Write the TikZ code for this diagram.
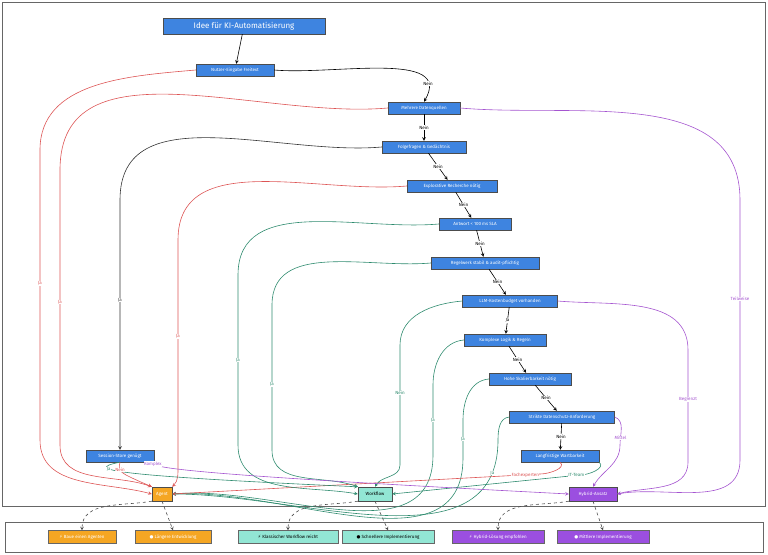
\documentclass[tikz,border=0pt]{standalone}
\usepackage{fontspec}
\setmainfont{Fira Sans}
\newfontfamily\symfont{DejaVu Sans}
\usetikzlibrary{positioning}
\definecolor{boxblue}{HTML}{3E84E0}
\definecolor{boxorange}{HTML}{F5A623}
\definecolor{boxteal}{HTML}{92E6D4}
\definecolor{boxpurple}{HTML}{9B4FE0}
\definecolor{edgered}{HTML}{DD5555}
\definecolor{edgeteal}{HTML}{2E8B6E}
\definecolor{edgepurple}{HTML}{A555D0}
\tikzset{
  box/.style={draw=black!70, fill=boxblue, text=white, font=\fontsize{4.5}{5}\selectfont, inner sep=1pt, minimum height=12pt, minimum width=#1},
  box/.default=80pt,
  legend/.style={draw=black!60, minimum height=13pt, minimum width=#1, font=\fontsize{4.5}{5}\selectfont},
  lbl/.style={font=\fontsize{4.5}{5}\selectfont, fill=white, inner sep=0.5pt},
  arr/.style={-stealth, line width=0.6pt},
  legarr/.style={-stealth, dashed, black!70, line width=0.6pt}
}
\begin{document}
\begin{tikzpicture}[x=1pt, y=-1pt]
  \useasboundingbox (0,0) rectangle (768,554);
  \draw[black!60, thick] (2,2) rectangle (765,506);
  \draw[black!60, thick] (5,522) rectangle (763,552);
  % decision nodes
  \node[box=162pt, minimum height=16pt, font=\fontsize{8}{9}\selectfont] (idee) at (244,26) {Idee für KI-Automatisierung};
  \node[box=78pt] (n1) at (235,70) {Nutzer-Eingabe Freitext};
  \node[box=72pt] (n2) at (424,108) {Mehrere Datenquellen};
  \node[box=84pt] (n3) at (424,147) {Folgefragen \& Gedächtnis};
  \node[box=90pt] (n4) at (452,186) {Explorative Recherche nötig};
  \node[box=72pt] (n5) at (475,224) {Antwort < 100 ms SLA};
  \node[box=108pt] (n6) at (485,263) {Regelwerk stabil \& audit-pflichtig};
  \node[box=95pt] (n7) at (510,301) {LLM-Kostenbudget vorhanden};
  \node[box=82pt] (n8) at (505,340) {Komplexe Logik \& Regeln};
  \node[box=82pt] (n9) at (530,379) {Hohe Skalierbarkeit nötig};
  \node[box=105pt] (n10) at (562,417) {Strikte Datenschutz-Anforderung};
  \node[box=78pt] (n11) at (560,456) {Langfristige Wartbarkeit};
  \node[box=68pt] (ss) at (120,456) {Session-Store genügt};
  % results
  \node[box=20pt, minimum height=14pt, fill=boxorange] (agent) at (162,494) {Agent};
  \node[box=34pt, minimum height=14pt, fill=boxteal, text=black] (workflow) at (375,494) {Workflow};
  \node[box=48pt, minimum height=14pt, fill=boxpurple] (hybrid) at (593,494) {Hybrid-Ansatz};
  % legend
  \node[legend=68pt, fill=boxorange, text=white] (l1) at (82,537) {{\symfont ⚡} Baue einen Agenten};
  \node[legend=76pt, fill=boxorange, text=white] (l2) at (173,537) {{\symfont ●} Längere Entwicklung};
  \node[legend=100pt, fill=boxteal] (l3) at (288,537) {{\symfont ⚡} Klassischer Workflow reicht};
  \node[legend=92pt, fill=boxteal] (l4) at (388,537) {{\symfont ●} Schnellere Implementierung};
  \node[legend=92pt, fill=boxpurple, text=white] (l5) at (498,537) {{\symfont ⚡} Hybrid-Lösung empfohlen};
  \node[legend=92pt, fill=boxpurple, text=white] (l6) at (603,537) {{\symfont ●} Mittlere Implementierung};
  % main chain
  \draw[arr] (idee) -- (n1);
  \draw[arr] (n1.east) to[out=-5,in=60] node[lbl, pos=.85]{Nein} (n2.north);
  \foreach \a/\b/\t in {n2/n3/Nein, n3/n4/Nein, n4/n5/Nein, n5/n6/Nein, n6/n7/Nein, n7/n8/Ja, n8/n9/Nein, n9/n10/Nein, n10/n11/Nein}
    \draw[arr] (\a) -- node[lbl]{\t} (\b);
  % to agent
  \draw[arr, edgered] (n1.west) to[out=185,in=90] (40,150) -- node[lbl, pos=.46]{Ja} (40,440) to[out=-90,in=165] (agent.west);
  \draw[arr, edgered] (n2.west) to[out=185,in=90] (60,170) -- node[lbl, pos=.48]{Ja} (60,445) to[out=-90,in=160] (agent.north west);
  \draw[arr, black!80] (n3.west) to[out=185,in=90] (120,200) -- node[lbl, pos=.4]{Ja} (ss.north);
  \draw[arr, edgered] (n4.west) to[out=185,in=90] (178,240) -- node[lbl, pos=.43]{Ja} (178,465) to[out=-90,in=45] (agent.north east);
  \draw[arr, edgeteal] (n8.west) to[out=185,in=90] (433,385) -- node[lbl, pos=.5]{Ja} (433,455) to[out=-90,in=5] (agent.east);
  \draw[arr, edgeteal] (n9.west) to[out=185,in=90] (463,420) -- node[lbl, pos=.5]{Ja} (463,458) to[out=-90,in=3] (agent.east);
  \draw[arr, edgeteal] (n10.west) to[out=185,in=90] (498,440) to[out=-90,in=0] node[lbl, pos=.1]{Ja} (agent.east);
  \draw[arr, edgered] (n11.south) to[out=-40,in=0] (540,474) -- node[lbl, pos=.04]{Fachexperten} (agent.east);
  % to workflow
  \draw[arr, edgeteal] (n5.west) to[out=185,in=90] (238,275) -- node[lbl, pos=.5]{Ja} (238,445) to[out=-90,in=170] (workflow.west);
  \draw[arr, edgeteal] (n6.west) to[out=185,in=90] (272,305) -- node[lbl, pos=.55]{Ja} (272,450) to[out=-90,in=160] (workflow.north west);
  \draw[arr, edgeteal] (n7.west) to[out=185,in=90] (400,345) -- node[lbl, pos=.4]{Nein} (400,465) to[out=-90,in=60] (workflow.north);
  \draw[arr, edgeteal] (n11.south east) to[out=-40,in=0] (580,475) -- node[lbl, pos=.02]{IT-Team} (workflow.east);
  % to hybrid
  \draw[arr, edgepurple] (n2.east) to[out=-5,in=90] (740,200) -- node[lbl, pos=.38]{Teilweise} (740,460) to[out=-90,in=10] (hybrid.east);
  \draw[arr, edgepurple] (n7.east) to[out=-5,in=90] (688,350) -- node[lbl, pos=.44]{Begrenzt} (688,462) to[out=-90,in=15] (hybrid.east);
  \draw[arr, edgepurple] (n10.east) to[out=-20,in=90] node[lbl, pos=.8]{Mittel} (620,445) to[out=-90,in=60] (hybrid.north);
  % from session store
  \draw[arr, edgeteal] (ss.south) .. controls (80,470) and (120,476) .. node[lbl, pos=.3]{Ja} (workflow.north west);
  \draw[arr, edgered] (ss.south) .. controls (118,472) .. node[lbl, pos=.35]{Nein} (agent.north west);
  \draw[arr, edgepurple] (ss.south east) .. controls (135,470) and (300,480) .. node[lbl, pos=.07]{Komplex} (hybrid.west);
  % to legend
  \draw[legarr] (agent.south west) to[out=190,in=90] (l1.north);
  \draw[legarr] (agent.south) -- (l2.north);
  \draw[legarr] (workflow.south west) to[out=190,in=90] (l3.north);
  \draw[legarr] (workflow.south) -- (l4.north);
  \draw[legarr] (hybrid.south west) to[out=190,in=90] (l5.north);
  \draw[legarr] (hybrid.south) -- (l6.north);
\end{tikzpicture}
\end{document}
